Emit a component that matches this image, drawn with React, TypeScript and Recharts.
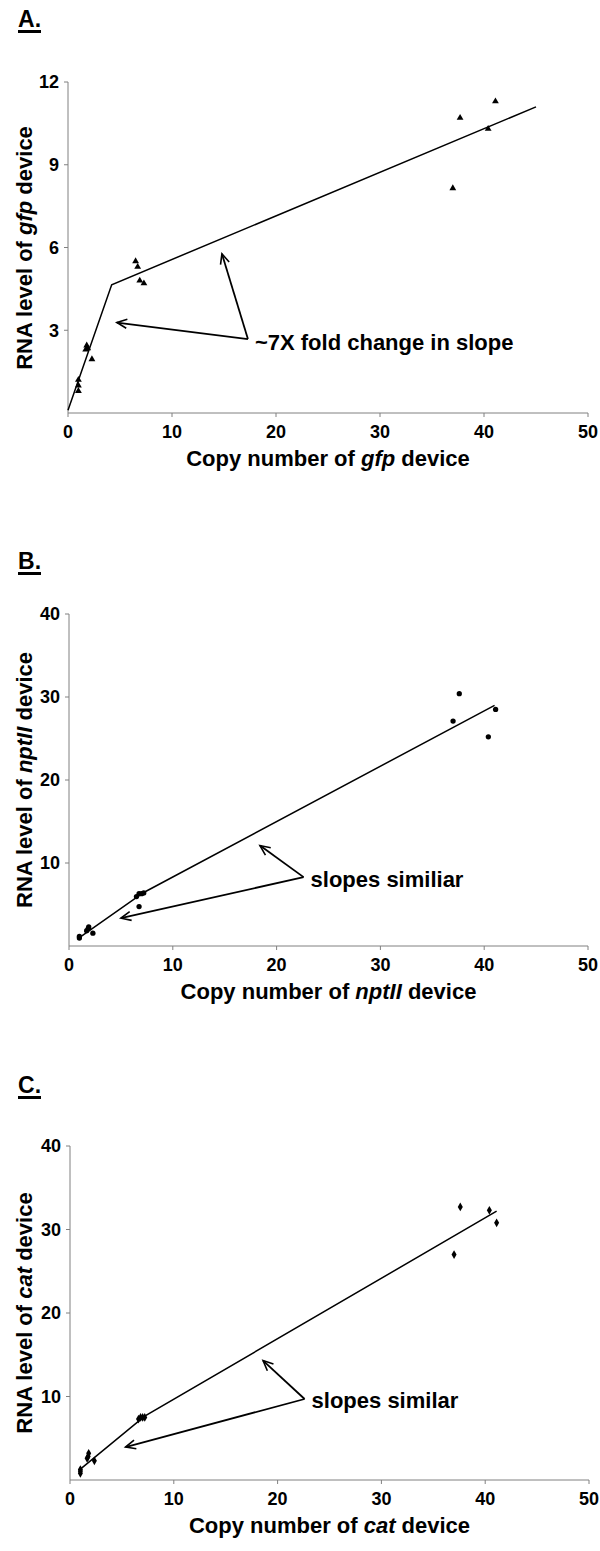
import React from "react";
import {
  ReferenceDot,
  ReferenceLine,
  Scatter,
  ScatterChart,
  Symbols,
  XAxis,
  YAxis,
} from "recharts";

const FONT = "'Liberation Sans', Arial, Helvetica, sans-serif";

const copyTicks = [0, 10, 20, 30, 40, 50];

// A. gfp device
const gfpCopies = [1.0, 1.0, 1.0, 1.7, 1.8, 1.9, 2.3, 6.5, 6.7, 6.9, 7.3, 37.0, 37.7, 40.4, 41.1];
const gfpRna = [1.2, 1.0, 0.8, 2.3, 2.45, 2.35, 1.95, 5.5, 5.3, 4.8, 4.7, 8.15, 10.7, 10.3, 11.3];
const gfpFitCopies = [0, 4.2, 45];
const gfpFitRna = [0.1, 4.65, 11.1];
const gfpTicks = [3, 6, 9, 12];

// B. nptII device
const nptCopies = [1.0, 1.0, 1.7, 1.85, 1.9, 2.3, 6.5, 6.75, 7.0, 7.2, 6.75, 37.0, 37.6, 40.4, 41.1];
const nptRna = [0.95, 1.15, 1.85, 2.1, 2.3, 1.55, 5.95, 6.3, 6.3, 6.4, 4.75, 27.1, 30.4, 25.2, 28.5];
const nptFitCopies = [1.0, 7.2, 41.0];
const nptFitRna = [1.0, 6.45, 29.0];
const nptTicks = [10, 20, 30, 40];

// C. cat device
const catCopies = [1.0, 1.0, 1.0, 1.65, 1.75, 1.8, 2.35, 6.6, 6.8, 7.0, 7.2, 37.0, 37.6, 40.4, 41.1];
const catRna = [0.8, 1.05, 1.25, 2.6, 2.8, 3.2, 2.3, 7.3, 7.5, 7.5, 7.5, 27.0, 32.7, 32.3, 30.8];
const catFitCopies = [1.0, 7.2, 41.1];
const catFitRna = [1.3, 7.65, 32.2];
const catTicks = [10, 20, 30, 40];

// annotation: arrow origin, two arrow tips, text anchor (data units)
const gfpNote = { text: "~7X fold change in slope", from: [17.3, 2.68], tips: [[4.7, 3.28], [14.8, 5.77]], at: [17.3, 2.55] };
const nptNote = { text: "slopes similiar", from: [22.6, 8.3], tips: [[5.0, 3.35], [18.4, 12.1]], at: [22.6, 8.1] };
const catNote = { text: "slopes similar", from: [22.6, 9.7], tips: [[5.35, 3.95], [18.6, 14.3]], at: [22.6, 9.5] };

const toPoints = (xs: number[], ys: number[]) => xs.map((x, i) => ({ x, y: ys[i] }));

function XTick({ x, y, payload }: any) {
  return (
    <text x={x} y={y} dy="0.71em" textAnchor="middle" fill="#000" fontSize={18} fontWeight="bold" fontFamily={FONT}>
      {payload.value}
    </text>
  );
}

function YTick({ x, y, payload }: any) {
  return (
    <text x={x} y={y} dy="0.36em" textAnchor="end" fill="#000" fontSize={18} fontWeight="bold" fontFamily={FONT}>
      {payload.value}
    </text>
  );
}

type PanelProps = {
  letter: string;
  gene: string;
  copies: number[];
  rna: number[];
  fitCopies: number[];
  fitRna: number[];
  yMax: number;
  yTicks: number[];
  shape: "triangle" | "circle" | "diamond";
  size: number;
  note: typeof gfpNote;
  letterTop: number;
  top: number;
  bottom: number;
  left: number;
  right: number;
};

function Panel(p: PanelProps) {
  const plotH = p.bottom - p.top;
  const chartTop = p.top - 10;
  const points = toPoints(p.copies, p.rna);
  const fit = toPoints(p.fitCopies, p.fitRna);

  return (
    <>
      <div
        style={{
          position: "absolute",
          left: 18,
          top: p.letterTop,
          fontFamily: FONT,
          fontWeight: "bold",
          fontSize: 23,
          lineHeight: "22px",
        }}
      >
        <span style={{ display: "inline-block", borderBottom: "3px solid #000" }}>{p.letter}.</span>
      </div>

      <div style={{ position: "absolute", left: 0, top: chartTop }}>
        <ScatterChart
          width={600}
          height={plotH + 50}
          margin={{ top: 10, right: 600 - p.right, bottom: 0, left: 0 }}
        >
          <XAxis
            type="number"
            dataKey="x"
            domain={[0, 50]}
            ticks={copyTicks}
            interval={0}
            height={40}
            stroke="#808080"
            tickSize={4}
            tickMargin={8}
            tick={<XTick />}
          />
          <YAxis
            type="number"
            dataKey="y"
            domain={[0, p.yMax]}
            ticks={p.yTicks}
            interval={0}
            width={p.left}
            stroke="#808080"
            tickSize={4}
            tickMargin={5}
            tick={<YTick />}
          />
          <Scatter
            data={fit}
            line={{ stroke: "#000", strokeWidth: 1.5 }}
            shape={() => <g />}
            isAnimationActive={false}
          />
          <Scatter
            data={points}
            shape={(s: any) => (
              <Symbols cx={s.cx} cy={s.cy} type={p.shape} size={p.size} fill="#000" />
            )}
            isAnimationActive={false}
          />
          {p.note.tips.map((tip, i) => (
            <ReferenceLine
              key={i}
              segment={[
                { x: p.note.from[0], y: p.note.from[1] },
                { x: tip[0], y: tip[1] },
              ]}
              stroke="#000"
              strokeWidth={1.8}
              markerEnd="url(#arrowHead)"
              ifOverflow="visible"
            />
          ))}
          <ReferenceDot
            x={p.note.at[0]}
            y={p.note.at[1]}
            r={0}
            fill="none"
            stroke="none"
            ifOverflow="visible"
            label={{
              value: p.note.text,
              position: "right",
              offset: 7,
              fill: "#000",
              fontSize: 22,
              fontWeight: "bold",
              fontFamily: FONT,
            }}
          />
        </ScatterChart>
      </div>

      {/* y axis title */}
      <div
        style={{
          position: "absolute",
          left: 25,
          top: (p.top + p.bottom) / 2,
          transform: "translate(-50%, -50%) rotate(-90deg)",
          whiteSpace: "nowrap",
          fontFamily: FONT,
          fontWeight: "bold",
          fontSize: 22,
          lineHeight: "22px",
        }}
      >
        RNA level of <i>{p.gene}</i> device
      </div>

      {/* x axis title */}
      <div
        style={{
          position: "absolute",
          left: (p.left + p.right) / 2,
          top: p.bottom + 46,
          transform: "translate(-50%, -50%)",
          whiteSpace: "nowrap",
          fontFamily: FONT,
          fontWeight: "bold",
          fontSize: 22,
          lineHeight: "22px",
        }}
      >
        Copy number of <i>{p.gene}</i> device
      </div>
    </>
  );
}

export default function App() {
  return (
    <div
      style={{
        position: "absolute",
        left: 0,
        top: 0,
        width: 600,
        height: 1551,
        background: "#fff",
        overflow: "hidden",
      }}
    >
      <svg width={0} height={0} style={{ position: "absolute" }}>
        <defs>
          <marker
            id="arrowHead"
            markerWidth={14}
            markerHeight={12}
            refX={11}
            refY={6}
            orient="auto"
            markerUnits="userSpaceOnUse"
          >
            <path d="M1,1.5 L11,6 L1,10.5" fill="none" stroke="#000" strokeWidth={1.6} />
          </marker>
        </defs>
      </svg>

      <Panel
        letter="A"
        gene="gfp"
        copies={gfpCopies}
        rna={gfpRna}
        fitCopies={gfpFitCopies}
        fitRna={gfpFitRna}
        yMax={12}
        yTicks={gfpTicks}
        shape="triangle"
        size={20}
        note={gfpNote}
        letterTop={8}
        top={82}
        bottom={413}
        left={68}
        right={588}
      />
      <Panel
        letter="B"
        gene="nptII"
        copies={nptCopies}
        rna={nptRna}
        fitCopies={nptFitCopies}
        fitRna={nptFitRna}
        yMax={40}
        yTicks={nptTicks}
        shape="circle"
        size={22}
        note={nptNote}
        letterTop={550}
        top={614}
        bottom={946}
        left={69}
        right={588}
      />
      <Panel
        letter="C"
        gene="cat"
        copies={catCopies}
        rna={catRna}
        fitCopies={catFitCopies}
        fitRna={catFitRna}
        yMax={40}
        yTicks={catTicks}
        shape="diamond"
        size={22}
        note={catNote}
        letterTop={1074}
        top={1146}
        bottom={1480}
        left={70}
        right={589}
      />
    </div>
  );
}
